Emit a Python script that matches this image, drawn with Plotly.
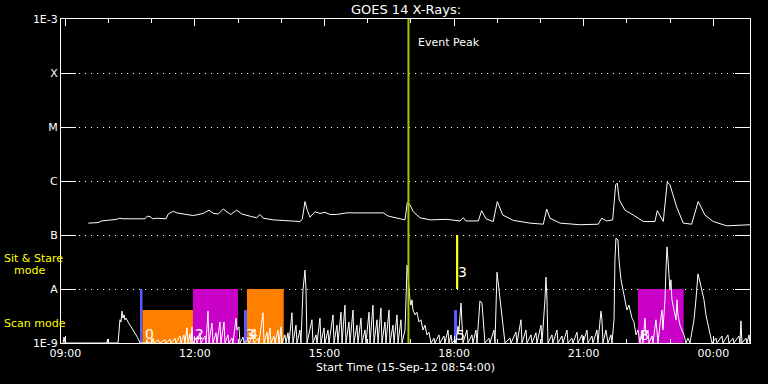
import numpy as np
import pandas as pd
import plotly.graph_objects as go

START = pd.Timestamp("2012-09-15 08:54:00")
END_MIN = 957.0  # minutes after start shown on the axis

# Upper curve (1-8 A channel): minutes after start, log10 flux (W/m^2)
hi_min = [37.9, 51.4, 56.5, 72.2, 77.4, 81.0, 86.1, 116.7, 119.9, 123.6, 127.4, 132.9, 145.8, 149.0,
          156.0, 160.7, 174.6, 183.7, 197.6, 205.6, 211.5, 218.5, 225.4, 230.1, 235.7, 244.0, 251.0,
          264.9, 271.8, 276.4, 281.0, 294.9, 318.0, 331.9, 335.1, 338.9, 342.1, 345.8, 352.8, 359.7,
          366.7, 373.6, 382.9, 396.8, 415.3, 443.0, 447.6, 454.6, 468.5, 477.8, 481.0, 484.7, 489.3,
          498.6, 512.5, 535.7, 554.2, 558.8, 562.5, 579.6, 584.3, 590.3, 600.4, 606.0, 613.5, 628.2,
          651.4, 669.9, 674.6, 679.2, 693.1, 720.8, 746.2, 750.9, 757.9, 766.3, 770.4, 772.6, 775.4,
          783.3, 794.9, 808.8, 825.0, 828.2, 836.5, 842.1, 845.8, 855.1, 864.3, 875.9, 885.1, 894.4,
          905.9, 924.6, 957.0]
hi_log = [-6.78, -6.77, -6.74, -6.72, -6.71, -6.69, -6.70, -6.70, -6.65, -6.66, -6.70, -6.69, -6.70, -6.61,
          -6.56, -6.59, -6.62, -6.64, -6.60, -6.54, -6.60, -6.61, -6.52, -6.56, -6.62, -6.54, -6.61,
          -6.66, -6.68, -6.62, -6.69, -6.72, -6.74, -6.75, -6.71, -6.38, -6.54, -6.67, -6.57, -6.60,
          -6.58, -6.62, -6.62, -6.59, -6.59, -6.60, -6.59, -6.65, -6.69, -6.72, -6.40, -6.44, -6.57,
          -6.68, -6.72, -6.71, -6.74, -6.68, -6.74, -6.74, -6.55, -6.70, -6.75, -6.38, -6.63, -6.73,
          -6.78, -6.80, -6.52, -6.69, -6.78, -6.81, -6.80, -6.69, -6.74, -6.72, -6.07, -6.04, -6.35,
          -6.54, -6.63, -6.75, -6.75, -6.55, -6.75, -6.02, -6.07, -6.48, -6.78, -6.80, -6.38, -6.63,
          -6.75, -6.83, -6.81]

# Lower curve (0.5-4 A channel): minutes after start, log10 flux
lo_min = [2.8, 4.2, 5.6, 63.9, 64.6, 65.3, 79.2, 80.6, 81.9, 83.3, 84.7, 86.1, 87.5, 88.9, 90.3, 93.1,
          95.8, 98.6, 101.4, 104.2, 106.9, 109.7, 118.1, 119.4, 120.8, 126.4, 127.8, 129.2, 134.7, 137.5,
          144.4, 145.8, 151.4, 152.8, 158.3, 159.7, 165.3, 166.7, 170.8, 172.2, 175.0, 176.4, 179.2,
          180.6, 181.9, 183.3, 187.5, 188.9, 193.1, 194.4, 200.0, 201.4, 204.2, 205.6, 209.7, 211.1,
          215.3, 216.7, 220.8, 222.2, 226.4, 227.8, 231.9, 233.3, 237.5, 238.9, 243.1, 244.4, 247.2,
          248.6, 252.8, 254.2, 259.7, 261.1, 266.7, 268.1, 273.6, 275.0, 280.6, 281.9, 286.1, 287.5,
          290.3, 291.7, 295.8, 297.2, 301.4, 302.8, 305.6, 306.9, 311.1, 312.5, 315.3, 316.7, 319.4,
          320.8, 322.2, 326.4, 327.8, 331.9, 333.3, 336.1, 338.9, 340.3, 341.7, 348.6, 350.0, 354.2,
          355.6, 359.7, 361.1, 365.3, 366.7, 370.8, 372.2, 377.8, 379.2, 383.3, 384.7, 388.9, 390.3,
          394.4, 395.8, 400.0, 401.4, 405.6, 406.9, 411.1, 412.5, 416.7, 418.1, 422.2, 423.6, 427.8,
          429.2, 433.3, 434.7, 438.9, 440.3, 444.4, 445.8, 450.0, 451.4, 455.6, 456.9, 461.1, 462.5,
          466.7, 468.1, 472.2, 473.6, 477.8, 479.2, 480.6, 481.9, 483.3, 484.7, 486.1, 487.5, 488.9,
          491.7, 494.4, 497.2, 500.0, 502.8, 505.6, 508.3, 511.1, 513.9, 518.1, 519.4, 525.0, 526.4,
          531.9, 533.3, 537.5, 538.9, 541.7, 543.1, 547.2, 548.6, 551.4, 552.8, 555.6, 556.9, 558.3,
          563.9, 565.3, 570.8, 572.2, 576.4, 577.8, 581.9, 584.7, 587.5, 588.9, 594.4, 595.8, 601.4,
          602.8, 605.6, 608.3, 611.1, 613.9, 616.7, 623.6, 625.0, 631.9, 633.3, 638.9, 640.3, 645.8,
          647.2, 652.8, 654.2, 659.7, 661.1, 666.7, 668.1, 672.2, 673.6, 675.0, 676.4, 681.9, 683.3,
          688.9, 690.3, 695.8, 697.2, 702.8, 704.2, 709.7, 711.1, 716.7, 718.1, 723.6, 725.0, 730.6,
          731.9, 737.5, 738.9, 744.4, 745.8, 750.0, 751.4, 752.8, 756.9, 759.7, 763.9, 765.3, 768.1,
          769.4, 770.8, 773.6, 775.0, 777.8, 780.6, 783.3, 786.1, 788.9, 791.7, 793.1, 795.8, 798.6,
          801.4, 804.2, 806.9, 808.3, 811.1, 812.5, 815.3, 816.7, 820.8, 822.2, 826.4, 827.8, 829.2,
          831.9, 834.7, 836.1, 838.9, 840.3, 841.7, 843.1, 844.4, 845.8, 847.2, 848.6, 851.4, 854.2,
          855.6, 856.9, 859.7, 862.5, 865.3, 868.1, 870.8, 873.6, 876.4, 879.2, 881.9, 883.3, 884.7,
          887.5, 890.3, 893.1, 895.8, 898.6, 901.4, 904.2, 909.7, 911.1, 918.1, 919.4, 926.4, 927.8,
          933.3, 934.7, 941.7, 943.1, 944.4, 945.8, 951.4, 952.8, 955.6, 956.9]
lo_log = [-9.00, -8.89, -9.00, -9.00, -8.93, -9.00, -9.00, -8.76, -8.57, -8.61, -8.41, -8.54, -8.48, -8.57,
          -8.54, -8.61, -8.67, -8.72, -8.80, -8.85, -8.91, -9.00, -9.00, -8.94, -9.00, -9.00, -8.91, -9.00,
          -8.94, -9.00, -8.94, -9.00, -8.93, -9.00, -8.91, -9.00, -8.87, -9.00, -8.85, -9.00, -8.72, -9.00,
          -8.83, -9.00, -8.70, -9.00, -8.91, -9.00, -8.81, -9.00, -8.87, -9.00, -8.41, -9.00, -8.63, -9.00,
          -8.81, -9.00, -8.61, -9.00, -8.61, -9.00, -8.85, -9.00, -8.91, -9.00, -8.54, -8.76, -8.70, -9.00,
          -8.89, -9.00, -8.94, -9.00, -8.87, -9.00, -8.91, -9.00, -8.44, -9.00, -8.80, -9.00, -8.72, -9.00,
          -8.87, -9.00, -8.76, -9.00, -8.70, -9.00, -8.85, -9.00, -8.81, -9.00, -8.52, -8.44, -9.00, -8.67,
          -9.00, -8.76, -9.00, -8.02, -7.65, -8.02, -9.00, -8.57, -9.00, -8.85, -9.00, -8.54, -9.00, -8.72,
          -9.00, -8.76, -9.00, -8.48, -9.00, -8.67, -9.00, -8.43, -9.00, -8.30, -9.00, -8.61, -9.00, -8.39,
          -9.00, -8.67, -9.00, -8.54, -9.00, -8.76, -9.00, -8.43, -9.00, -8.30, -9.00, -8.57, -9.00, -8.35,
          -9.00, -8.61, -9.00, -8.39, -9.00, -8.67, -9.00, -8.48, -9.00, -8.57, -9.00, -8.76, -8.20, -7.56,
          -7.74, -8.02, -8.20, -8.30, -8.20, -8.39, -8.48, -8.43, -8.61, -8.57, -8.76, -8.67, -8.85, -8.80,
          -9.00, -8.91, -9.00, -8.85, -9.00, -8.87, -9.00, -8.76, -9.00, -8.85, -9.00, -8.94, -9.00, -8.69,
          -8.76, -8.26, -8.76, -9.00, -8.76, -9.00, -8.85, -9.00, -8.76, -9.00, -8.22, -8.26, -8.76, -9.00,
          -8.91, -9.00, -8.76, -9.00, -7.69, -8.02, -8.39, -8.76, -9.00, -8.91, -9.00, -8.80, -9.00, -8.57,
          -9.00, -8.76, -9.00, -8.85, -9.00, -8.81, -9.00, -8.67, -9.00, -8.20, -7.78, -8.20, -9.00, -8.85,
          -9.00, -8.76, -9.00, -8.87, -9.00, -8.76, -9.00, -8.91, -9.00, -8.80, -9.00, -8.85, -9.00, -8.76,
          -9.00, -8.87, -9.00, -8.76, -9.00, -8.41, -8.57, -9.00, -8.76, -9.00, -8.85, -9.00, -8.57, -7.46,
          -7.06, -7.09, -7.46, -7.83, -8.02, -8.20, -8.39, -8.30, -8.44, -8.54, -8.61, -8.85, -8.76, -9.00,
          -8.76, -9.00, -8.54, -8.85, -8.76, -9.00, -8.87, -9.00, -8.57, -8.76, -9.00, -8.67, -8.39, -8.76,
          -8.20, -7.65, -7.22, -7.46, -7.74, -8.02, -7.83, -8.20, -8.39, -8.57, -8.20, -8.48, -8.67, -8.76,
          -8.85, -9.00, -8.91, -9.00, -8.76, -8.57, -8.20, -7.93, -7.72, -7.87, -8.02, -8.20, -8.48, -8.67,
          -8.85, -9.00, -8.91, -9.00, -8.87, -9.00, -8.85, -9.00, -8.91, -9.00, -8.87, -9.00, -8.59, -9.00,
          -8.91, -9.00, -8.85, -9.00]

# Observation blocks: start/end minutes after start, log10 bottom/top, colour, label
box_start = [109.7, 113.2, 183.3, 254.2, 258.3, 545.8, 548.6, 801.4]
box_end = [113.2, 183.3, 245.8, 258.3, 309.3, 550.0, 551.8, 864.9]
box_low = [-9.0, -9.0, -9.0, -9.0, -9.0, -9.0, -8.0, -9.0]
box_high = [-8.0, -8.39, -8.0, -8.39, -8.0, -8.39, -7.0, -8.0]
box_color = ["#5A5AFF", "#FF8000", "#C800C8", "#5A5AFF", "#FF8000", "#5A5AFF", "#FFFF00", "#C800C8"]
box_label = ["", "0", "2", "3", "4", "5", "3", "8"]
box_label_log = [-8.83, -8.83, -8.83, -8.83, -8.83, -8.85, -7.69, -8.86]

EVENT_PEAK_MIN = 482.6

ytick_vals = [1e-9, 1e-8, 1e-7, 1e-6, 1e-5, 1e-4, 1e-3]
ytick_text = ["1E-9", "A", "B", "C", "M", "X", "1E-3"]


def to_time(mins):
    return START + pd.to_timedelta(np.asarray(mins, dtype=float), unit="m")


FONT = "DejaVu Sans"
fig = go.Figure()

for s, e, lo, hi, c in zip(box_start, box_end, box_low, box_high, box_color):
    t = to_time([s, s, e, e, s])
    fig.add_trace(go.Scatter(x=t, y=[10 ** lo, 10 ** hi, 10 ** hi, 10 ** lo, 10 ** lo],
                             mode="lines", fill="toself", fillcolor=c,
                             line=dict(width=0, color=c), hoverinfo="skip", showlegend=False))

fig.add_trace(go.Scatter(x=to_time(hi_min), y=10 ** np.array(hi_log), mode="lines",
                         line=dict(color="white", width=1), showlegend=False))
fig.add_trace(go.Scatter(x=to_time(lo_min), y=10 ** np.array(lo_log), mode="lines",
                         line=dict(color="white", width=1), showlegend=False))

ev = to_time([EVENT_PEAK_MIN, EVENT_PEAK_MIN])
fig.add_trace(go.Scatter(x=ev, y=[1e-9, 1e-3], mode="lines",
                         line=dict(color="#99CC00", width=2), showlegend=False))

annotations = []
for s, lab, ly in zip(box_start, box_label, box_label_log):
    if lab:
        annotations.append(dict(x=to_time([s])[0], y=ly, xref="x", yref="y", text=lab,
                                showarrow=False, xanchor="left", yanchor="middle",
                                font=dict(family=FONT, size=14, color="white")))
annotations.append(dict(x=ev[0], y=-3.44, xref="x", yref="y", text="Event Peak", showarrow=False,
                        xanchor="left", yanchor="middle", xshift=8,
                        font=dict(family=FONT, size=11, color="white")))
for txt, ly in [("Sit & Stare", -7.43), ("mode", -7.66), ("Scan mode", -8.64)]:
    xs = -59 if txt != "mode" else -49
    annotations.append(dict(x=0, y=ly, xref="paper", yref="y", text=txt, showarrow=False,
                            xanchor="left", yanchor="middle", xshift=xs,
                            font=dict(family=FONT, size=11, color="#FFFF00")))

fig.update_layout(
    width=768, height=384,
    paper_bgcolor="black", plot_bgcolor="black",
    margin=dict(l=61, r=18, t=19, b=41),
    title=dict(text="GOES 14 X-Rays:", x=(61 + 345) / 768 + 0.0, xanchor="center",
               y=1 - 9.5 / 384, yanchor="middle", yref="container",
               font=dict(family=FONT, size=13, color="white")),
    font=dict(family=FONT, color="white", size=11),
    annotations=annotations,
    xaxis=dict(type="date", range=[START, START + pd.Timedelta(minutes=END_MIN)],
               showline=True, linecolor="white", linewidth=1, mirror="allticks",
               ticks="inside", ticklen=7, tickcolor="white", tickwidth=1,
               tick0="2012-09-15 09:00:00", dtick=3 * 3600 * 1000, tickformat="%H:%M",
               tickfont=dict(family=FONT, size=11, color="white"),
               minor=dict(dtick=3600 * 1000, ticks="inside", ticklen=4, tickcolor="white", showgrid=False),
               showgrid=False, zeroline=False,
               title=dict(text="Start Time (15-Sep-12 08:54:00)", standoff=4,
                          font=dict(family=FONT, size=11, color="white"))),
    yaxis=dict(type="log", range=[-9, -3], tickvals=ytick_vals, ticktext=ytick_text,
               showline=True, linecolor="white", linewidth=1, mirror="allticks",
               ticks="inside", ticklen=15, tickcolor="white", tickwidth=1,
               tickfont=dict(family=FONT, size=11, color="white"),
               showgrid=True, gridcolor="white", gridwidth=1, griddash="1px,5px",
               zeroline=False),
)

fig.write_html("out.html")
